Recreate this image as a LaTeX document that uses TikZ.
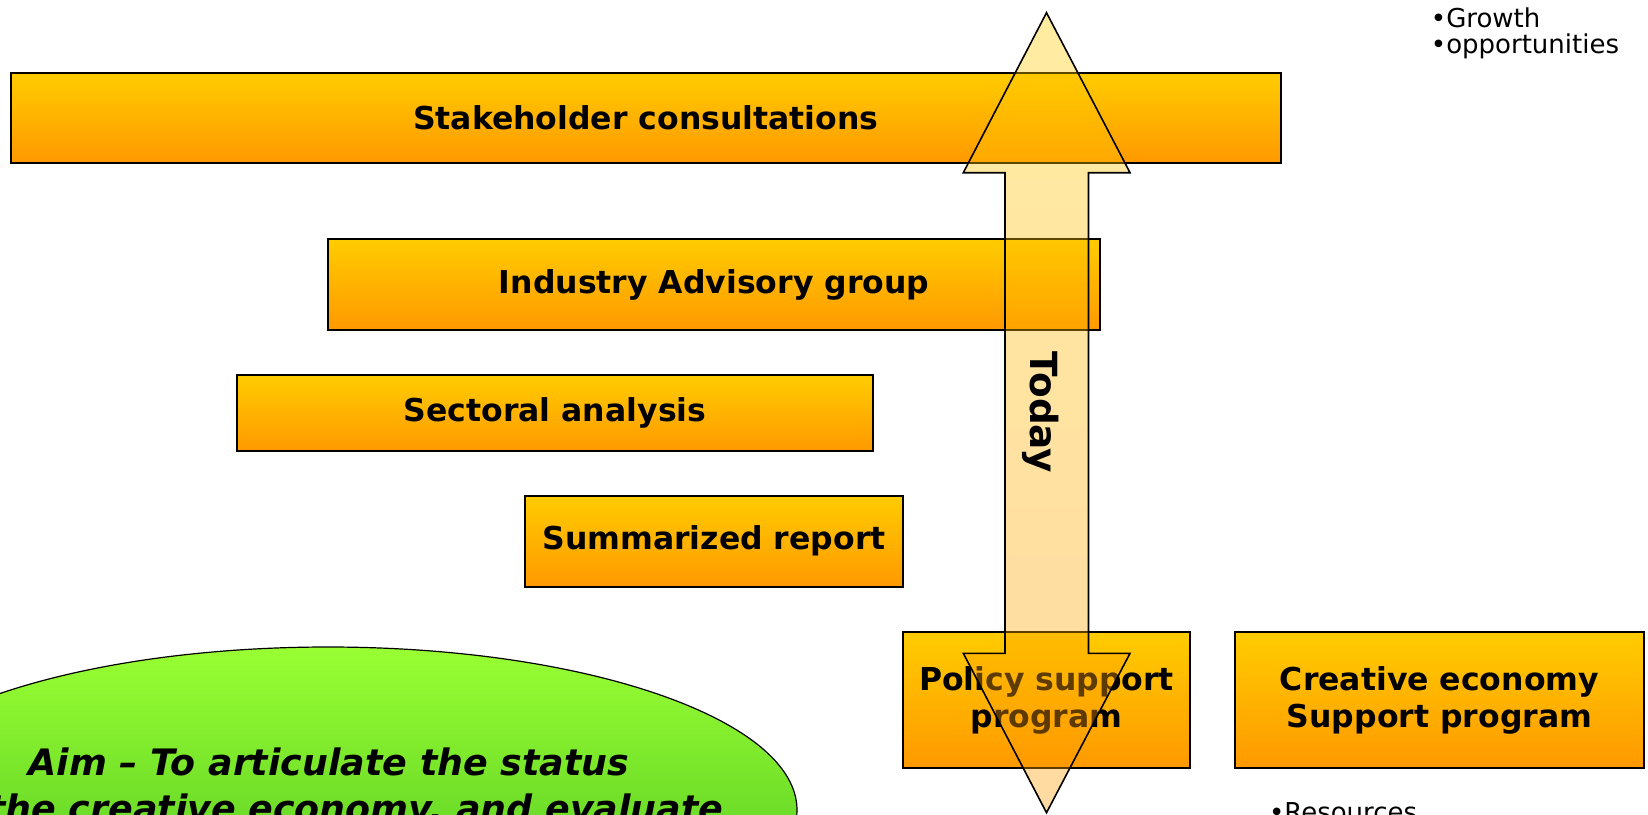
\documentclass[tikz,border=0pt]{standalone}
\usepackage{fontspec}
\setmainfont{DejaVu Sans}[ItalicFont={DejaVu Sans Oblique},BoldItalicFont={DejaVu Sans Bold Oblique}]

\definecolor{barTop}{RGB}{255,204,0}
\definecolor{barBot}{RGB}{255,153,0}
\definecolor{aimTop}{RGB}{153,255,51}
\definecolor{aimBot}{RGB}{70,190,30}

\begin{document}
\begin{tikzpicture}[x=0.5pt,y=-0.5pt,
  bar/.style={draw=black,line width=1pt,top color=barTop,bottom color=barBot,
    inner sep=0pt,align=center,font=\fontsize{15.75}{18.65}\selectfont\bfseries},
  todayarrow/.style={draw=black,line width=0.8pt,top color=barTop,bottom color=barBot,fill opacity=0.37},
  blob/.style={draw=black,line width=0.6pt,top color=aimTop,bottom color=aimBot},
  bullet/.style={anchor=base west,inner sep=0pt,font=\fontsize{13}{13}\selectfont}]

\def\width{1648}
\def\height{814}
\def\ax{1046.5}

\path [use as bounding box] (0,0) rectangle (\width,\height);
\clip (0,0) rectangle (\width,\height);

% AIM
\draw [blob] (328,810) ellipse [x radius=234.5pt,y radius=81.5pt];
\node [anchor=north,inner sep=0pt,align=center,font=\fontsize{18.2}{23.3}\selectfont\bfseries\itshape]
  (aim) at (329,747.3) {Aim -- To articulate the status\\of the creative economy, and evaluate};

% STEPS
\node [bar,minimum width=634.75pt,minimum height=45.25pt] (consult) at (645.75,117.75) {Stakeholder consultations};
\node [bar,minimum width=385.85pt,minimum height=45.5pt] (advisory) at (714.15,284.5) {Industry Advisory group};
\node [bar,minimum width=318pt,minimum height=38pt] (sectoral) at (555,413) {Sectoral analysis};
\node [bar,minimum width=189pt,minimum height=45.5pt] (summary) at (714,541) {Summarized report};
\node [bar,minimum width=143.5pt,minimum height=68pt] (policy) at (\ax,700.3) {Policy support\\program};
\node [bar,minimum width=204.5pt,minimum height=68pt] (creative) at (1439.5,700.3) {Creative economy\\Support program};

% TODAY
\draw [todayarrow] (\ax,12.7) -- ++(83.5,160) -- ++(-41.5,0) -- ++(0,480.6) -- ++(41.5,0)
  -- (\ax,812.7) -- ++(-83.2,-159.4) -- ++(41.7,0) -- ++(0,-480.6) -- ++(-41.7,0) -- cycle;
\node [rotate=-90,inner sep=0pt,font=\fontsize{18.7}{22}\selectfont\bfseries] (today) at (1041,412.5) {Today};

% NOTES
\node [bullet] (growth) at (1430.5,27.3) {•Growth};
\node [bullet] (opps) at (1430.5,53.3) {•opportunities};
\node [bullet] (resources) at (1268.6,821) {•Resources};

\end{tikzpicture}
\end{document}
